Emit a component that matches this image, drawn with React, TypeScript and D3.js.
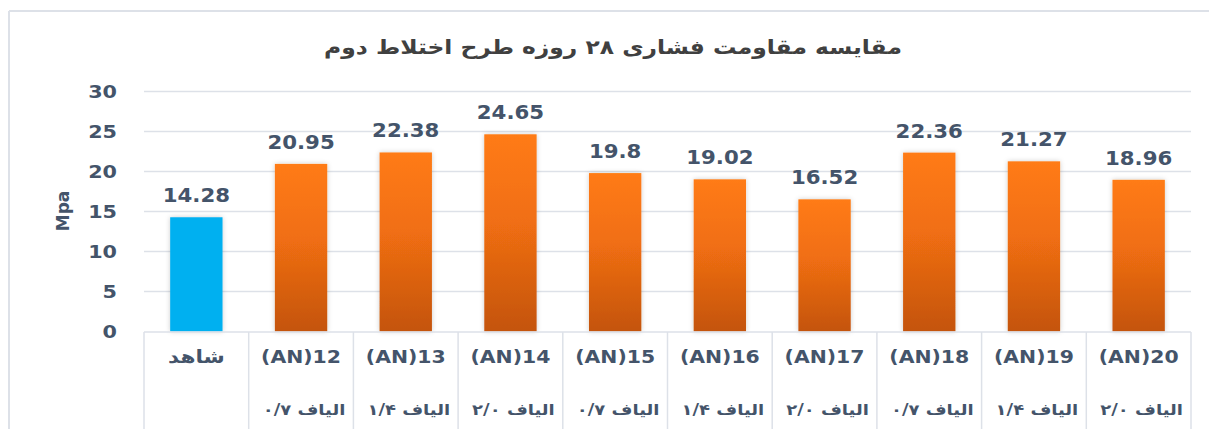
import React from "react";
import * as d3 from "d3";

const categories = ["شاهد", "(AN)12", "(AN)13", "(AN)14", "(AN)15", "(AN)16", "(AN)17", "(AN)18", "(AN)19", "(AN)20"];
const subLabels = ["", "الیاف ۰/۷", "الیاف ۱/۴", "الیاف ۲/۰", "الیاف ۰/۷", "الیاف ۱/۴", "الیاف ۲/۰", "الیاف ۰/۷", "الیاف ۱/۴", "الیاف ۲/۰"];
const values = [14.28, 20.95, 22.38, 24.65, 19.8, 19.02, 16.52, 22.36, 21.27, 18.96];
const valueLabels = ["14.28", "20.95", "22.38", "24.65", "19.8", "19.02", "16.52", "22.36", "21.27", "18.96"];
const yTicks = [0, 5, 10, 15, 20, 25, 30];
const title = "مقایسه مقاومت فشاری ۲۸ روزه طرح اختلاط دوم";
const yTitle = "Mpa";

const W = 1209;
const H = 429;
const FONT = "'DejaVu Sans', Verdana, sans-serif";
const LABEL = "#44546a";
const GRID = "#dde1e8";

export default function App() {
  const x = d3.scaleBand<string>().domain(categories).range([144, 1191]).paddingInner(0.5).paddingOuter(0.25);
  const y = d3.scaleLinear().domain([0, 30]).range([331.5, 91.5]);
  const step = x.step();
  const cellLeft = (i: number) => 144 + i * (1047 / categories.length);

  return (
    <svg width={W} height={H} style={{ position: "absolute", left: 0, top: 0 }} fontFamily={FONT}>
      <defs>
        <linearGradient id="orangeGrad" x1="0" y1="0" x2="0" y2="1">
          <stop offset="0%" stopColor="#ff7b13" />
          <stop offset="45%" stopColor="#f06e12" />
          <stop offset="100%" stopColor="#c4540e" />
        </linearGradient>
        <filter id="shadow" x="-20%" y="-10%" width="140%" height="120%">
          <feDropShadow dx="0" dy="0" stdDeviation="2.5" floodColor="#000" floodOpacity="0.2" />
        </filter>
      </defs>
      <rect x={0} y={0} width={W} height={H} fill="#fff" />
      {/* frame */}
      <line x1={9} y1={11} x2={W} y2={11} stroke={GRID} strokeWidth={2} />
      <line x1={9} y1={11} x2={9} y2={H} stroke={GRID} strokeWidth={2} />

      {/* title */}
      <text x={613} y={54} textAnchor="middle" direction="rtl" fontSize={20} fontWeight="bold" fill="#404040"
        transform={`translate(613,0) scale(1.17,1) translate(-613,0)`}>
        {title}
      </text>

      {/* gridlines */}
      {yTicks.filter((t) => t > 0).map((t) => (
        <line key={t} x1={144} x2={1191} y1={y(t)} y2={y(t)} stroke={GRID} strokeWidth={1.5} />
      ))}

      {/* y tick labels */}
      {yTicks.map((t) => (
        <text key={t} textAnchor="end" fontSize={17} fontWeight="bold" fill={LABEL}
          transform={`translate(117,${y(t) + 6}) scale(1.22,1)`}>
          {t}
        </text>
      ))}
      <text fontSize={17} fontWeight="bold" fill={LABEL} textAnchor="middle"
        transform={`translate(69,211) rotate(-90)`}>
        {yTitle}
      </text>

      {/* bars */}
      {values.map((v, i) => (
        <rect key={i} x={x(categories[i])} y={y(v)} width={x.bandwidth()} height={y(0) - y(v)}
          fill={i === 0 ? "#00b0f0" : "url(#orangeGrad)"} filter="url(#shadow)" />
      ))}

      {/* value labels */}
      {values.map((v, i) => (
        <text key={i} textAnchor="middle" fontSize={19} fontWeight="bold" fill={LABEL}
          transform={`translate(${(x(categories[i]) as number) + x.bandwidth() / 2},${y(v) - 15}) scale(1.12,1)`}>
          {valueLabels[i]}
        </text>
      ))}

      {/* category table */}
      <line x1={144} x2={1191} y1={332} y2={332} stroke={GRID} strokeWidth={1.5} />
      {d3.range(categories.length + 1).map((i) => (
        <line key={i} x1={cellLeft(i)} x2={cellLeft(i)} y1={332} y2={H} stroke={GRID} strokeWidth={1.5} />
      ))}
      {categories.map((c, i) => (
        <text key={c} textAnchor="middle" fontSize={i === 0 ? 18 : 17} fontWeight="bold" fill={LABEL} direction={i === 0 ? "rtl" : "ltr"}
          transform={`translate(${cellLeft(i) + step / 2},363) scale(1.2,1)`}>
          {c}
        </text>
      ))}
      {subLabels.map((s, i) => (
        <text key={i} textAnchor="middle" fontSize={15} fontWeight="bold" fill={LABEL} direction="rtl"
          transform={`translate(${cellLeft(i) + step / 2 + 3},415) scale(1.2,1)`}>
          {s}
        </text>
      ))}
    </svg>
  );
}
